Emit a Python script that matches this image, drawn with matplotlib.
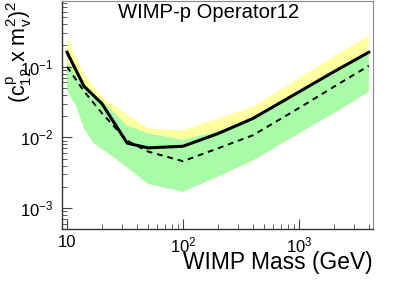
import matplotlib
matplotlib.use('Agg')
import matplotlib.pyplot as plt
from matplotlib.ticker import LogLocator, NullFormatter

plt.rcParams['font.family'] = ['Liberation Sans', 'DejaVu Sans']
plt.rcParams['mathtext.fontset'] = 'custom'
plt.rcParams['mathtext.rm'] = 'Liberation Sans'
plt.rcParams['mathtext.it'] = 'Liberation Sans'

# WIMP mass points (GeV)
mass = [10, 14, 20, 33, 50, 100, 200, 400, 1000, 2000, 4000]
# observed limit (solid) and expected (dashed)
observed = [0.16, 0.053, 0.030, 0.0083, 0.0071, 0.0075, 0.0113, 0.0185, 0.044, 0.085, 0.16]
expected = [0.10, 0.045, 0.022, 0.0090, 0.0063, 0.0046, 0.0070, 0.0107, 0.026, 0.052, 0.103]
# upper edges of the bands
upper_1s = [0.12, 0.050, 0.033, 0.0148, 0.0114, 0.0092, 0.0122, 0.0185, 0.043, 0.082, 0.155]
upper_2s = [0.256, 0.080, 0.037, 0.021, 0.0134, 0.0126, 0.0185, 0.027, 0.069, 0.138, 0.275]
# lower edge of the bands
mass_low = [10, 12, 14, 17, 22, 35, 50, 100, 200, 400, 1000, 2000, 4000]
lower = [0.046, 0.028, 0.0134, 0.0082, 0.0062, 0.0035, 0.0022, 0.0017, 0.0028, 0.0047, 0.0114, 0.022, 0.044]

fig = plt.figure(figsize=(4.15, 2.81), dpi=100)
ax = fig.add_axes([62/415, 1 - 229/281, (373 - 62)/415, 228/281])

ax.fill(mass + mass_low[::-1], upper_2s + lower[::-1], color='#ffffa0', lw=0)
ax.fill(mass + mass_low[::-1], upper_1s + lower[::-1], color='#a8fca8', lw=0)
ax.plot(mass, observed, color='black', lw=2.2)
ax.plot(mass, expected, color='black', lw=1.4, ls=(0, (3, 2.5)))

ax.set_xscale('log')
ax.set_yscale('log')
ax.set_xlim(9.05, 4350)
ax.set_ylim(5.06e-4, 0.85)

ax.xaxis.set_major_locator(LogLocator(base=10))
ax.xaxis.set_minor_locator(LogLocator(base=10, subs=range(2, 10)))
ax.xaxis.set_minor_formatter(NullFormatter())
ax.yaxis.set_minor_formatter(NullFormatter())
ax.tick_params(which='both', direction='in', top=False, right=False,
               labelsize=12, color='#444444', pad=6)
ax.tick_params(axis='x', which='both', pad=4.5)
ax.tick_params(which='major', length=7)
ax.tick_params(which='minor', length=3.5)
ax.set_xticks([10, 100, 1000])
ax.set_xticklabels(['10', r'$10^{2}$', r'$10^{3}$'])

for s in ['top', 'right']:
    ax.spines[s].set_color('#888888')
    ax.spines[s].set_linewidth(0.8)
for s in ['left', 'bottom']:
    ax.spines[s].set_color('#333333')
    ax.spines[s].set_linewidth(1.0)

fig.text(373/415, 1 - 269/281, 'WIMP Mass (GeV)', ha='right', va='baseline', fontsize=16.4)
fig.text(5/415, 0.998, r'$(c^{p}_{12}$ x m$_{v}^{2})^{2}$', rotation=90,
         ha='left', va='top', fontsize=15.5)
fig.text(118/415, 1 - 18/281, 'WIMP-p Operator12', ha='left', va='baseline', fontsize=14.6)

fig.savefig('out.png', dpi=100)
